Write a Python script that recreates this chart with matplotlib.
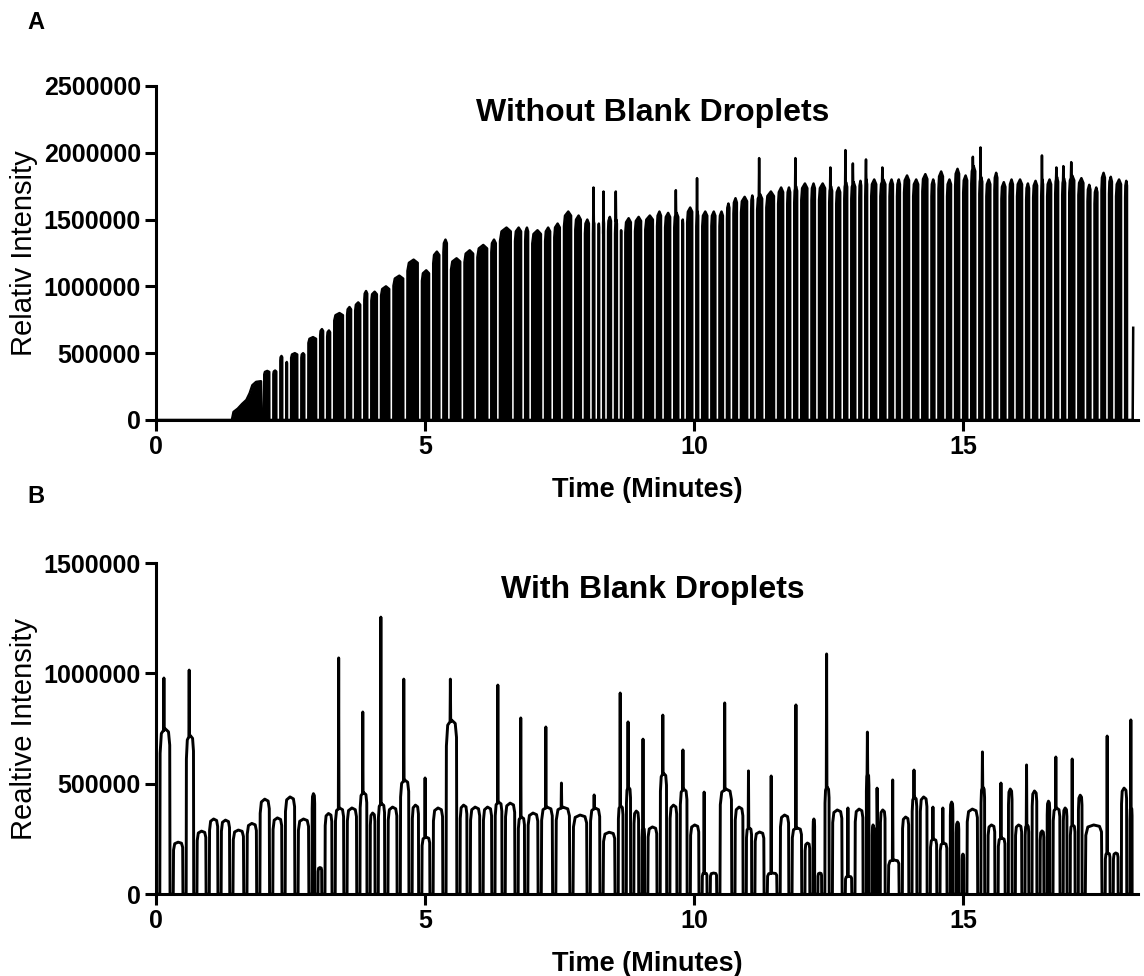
import matplotlib.pyplot as plt

plt.rcParams['font.family'] = ['Liberation Sans', 'DejaVu Sans']

# Panel A (without blank droplets)
# early ramp where the droplets run together (min, thousand counts)
a_ramp_t = [1.41, 1.44, 1.52, 1.60, 1.68, 1.74, 1.79, 1.86, 1.95]
a_ramp_k = [0, 60, 85, 120, 150, 200, 260, 285, 290]
# droplet start times (min), plateau level and spike top (thousand counts, 0 = no spike)
a_start = [2.01, 2.18, 2.31, 2.42,
           2.51, 2.70, 2.83, 3.05, 3.18, 3.31, 3.55, 3.70, 3.87, 4.00,
           4.18, 4.41, 4.67, 4.94, 5.15, 5.34, 5.48, 5.73, 5.97, 6.23,
           6.39, 6.67, 6.86, 6.99, 7.23, 7.40, 7.58, 7.79, 7.97, 8.12,
           8.22, 8.31, 8.40, 8.53, 8.64, 8.72, 8.90, 9.09, 9.31, 9.46,
           9.63, 9.78, 9.87, 10.04, 10.15, 10.32, 10.47, 10.61, 10.73, 10.87,
           11.06, 11.17, 11.34, 11.56, 11.73, 11.86, 11.99, 12.18, 12.32, 12.51,
           12.64, 12.79, 12.92, 13.07, 13.18, 13.29, 13.46, 13.63, 13.77, 13.90,
           14.07, 14.24, 14.41, 14.54, 14.70, 14.85, 15.00, 15.15, 15.30, 15.43,
           15.58, 15.71, 15.86, 16.00, 16.17, 16.30, 16.45, 16.56, 16.71, 16.84,
           16.97, 17.14, 17.31, 17.44, 17.57, 17.71, 17.84, 18.01]
a_level = [367, 370, 479, 434,
           500, 500, 620, 680, 670, 800, 845, 880, 965, 960,
           1000, 1080, 1200, 1120, 1260, 1350, 1210, 1270, 1310, 1350,
           1440, 1440, 1440, 1420, 1440, 1470, 1560, 1530, 1500, 1500,
           1470, 1500, 1520, 1500, 1420, 1510, 1520, 1530, 1560, 1550,
           1550, 1500, 1590, 1560, 1560, 1560, 1560, 1620, 1660, 1670,
           1680, 1690, 1710, 1740, 1740, 1750, 1770, 1770, 1770, 1750,
           1740, 1780, 1780, 1790, 1800, 1800, 1800, 1800, 1800, 1830,
           1800, 1840, 1800, 1860, 1800, 1880, 1830, 1900, 1820, 1800,
           1850, 1780, 1800, 1800, 1770, 1790, 1800, 1800, 1820, 1810,
           1830, 1810, 1760, 1740, 1850, 1820, 1800, 1790]
a_spike = [0, 0, 0, 0,
           0, 0, 0, 0, 0, 0, 0, 0, 0, 0,
           0, 0, 0, 0, 0, 0, 0, 0, 0, 0,
           0, 0, 0, 0, 0, 0, 0, 0, 0, 1740,
           0, 1710, 0, 1710, 0, 0, 0, 0, 0, 0,
           1720, 0, 0, 1810, 0, 0, 0, 0, 0, 0,
           0, 1960, 0, 0, 0, 1960, 0, 0, 0, 1890,
           0, 2020, 1920, 0, 1950, 0, 1890, 0, 0, 0,
           0, 0, 0, 0, 0, 0, 0, 1970, 2040, 0,
           0, 0, 0, 0, 0, 0, 1980, 0, 1890, 1900,
           1930, 0, 0, 0, 0, 0, 0, 0]
a_end = 18.12
a_tail_t = 18.16
a_tail_k = 690

# Panel B (with blank droplets)
b_start = [0.00, 0.07, 0.32, 0.56, 0.76, 0.99, 1.21, 1.43, 1.69, 1.93,
           2.17, 2.40, 2.64, 2.90, 3.01, 3.14, 3.33, 3.55, 3.79, 3.98,
           4.13, 4.31, 4.54, 4.76, 4.94, 5.15, 5.39, 5.65, 5.84, 6.08,
           6.30, 6.49, 6.73, 6.91, 7.16, 7.43, 7.75, 8.07, 8.31, 8.59,
           8.74, 8.88, 9.03, 9.14, 9.37, 9.55, 9.74, 9.93, 10.15, 10.30,
           10.48, 10.76, 10.97, 11.13, 11.36, 11.60, 11.82, 12.06, 12.21, 12.30,
           12.43, 12.57, 12.81, 12.99, 13.20, 13.31, 13.40, 13.46, 13.61, 13.87,
           14.05, 14.20, 14.39, 14.57, 14.76, 14.87, 14.98, 15.07, 15.33, 15.46,
           15.65, 15.84, 15.97, 16.15, 16.28, 16.43, 16.56, 16.67, 16.86, 16.99,
           17.14, 17.27, 17.64, 17.79, 17.94, 18.10]
b_level = [150, 750, 235, 720, 285, 340, 335, 290, 320, 430,
           345, 440, 340, 455, 120, 365, 390, 390, 460, 367,
           410, 394, 517, 403, 258, 390, 789, 403, 394, 394,
           417, 412, 349, 367, 394, 394, 358, 390, 280, 400,
           485, 376, 300, 304, 548, 403, 476, 313, 95, 95,
           476, 394, 300, 281, 95, 358, 300, 231, 340, 95,
           485, 381, 80, 385, 548, 313, 300, 381, 154, 349,
           440, 440, 249, 231, 417, 326, 181, 385, 485, 313,
           254, 476, 313, 313, 467, 286, 421, 390, 390, 313,
           448, 313, 186, 186, 480, 394]
b_spike = [0, 979, 0, 1015, 0, 0, 0, 0, 0, 0,
           0, 0, 0, 0, 0, 0, 1070, 0, 825, 0,
           1255, 0, 974, 0, 526, 0, 974, 0, 0, 0,
           947, 0, 798, 0, 757, 503, 0, 449, 0, 911,
           780, 0, 702, 0, 811, 0, 653, 0, 462, 0,
           866, 0, 558, 0, 535, 0, 857, 0, 0, 0,
           1088, 0, 390, 0, 734, 0, 480, 0, 517, 0,
           562, 0, 394, 390, 0, 0, 0, 0, 644, 0,
           503, 0, 0, 585, 0, 0, 0, 621, 0, 612,
           0, 0, 716, 0, 0, 789]
b_end = 18.20

x_ticks = [0, 5, 10, 15]
a_yticks = [0, 500000, 1000000, 1500000, 2000000, 2500000]
b_yticks = [0, 500000, 1000000, 1500000]


def build_trace(starts, levels, spikes, end, gap, fracs, shape):
    t, y = [], []
    stops = list(starts[1:]) + [end]
    for s, e, h, sp in zip(starts, stops, levels, spikes):
        w = (e - gap) - s
        pts = [(s + f * w, k * h * 1000) for f, k in zip(fracs, shape)]
        if sp:
            ts = s + 0.4 * w
            pts += [(ts - 0.006, h * 990), (ts, sp * 1000), (ts + 0.006, h * 990)]
        pts.sort()
        t += [p[0] for p in pts]
        y += [p[1] for p in pts]
    return t, y


def style_axes(ax, yticks, ylabel, title, ymax):
    ax.set_xlim(0, 18.25)
    ax.set_ylim(0, ymax)
    ax.set_xticks(x_ticks)
    ax.set_xticklabels([str(v) for v in x_ticks], fontweight='bold')
    ax.set_yticks(yticks)
    ax.set_yticklabels([str(v) for v in yticks], fontweight='bold')
    ax.tick_params(direction='out', length=8, width=2.2, labelsize=18, pad=3)
    for side in ['top', 'right']:
        ax.spines[side].set_visible(False)
    for side in ['left', 'bottom']:
        ax.spines[side].set_linewidth(2.2)
    ax.set_ylabel(ylabel, fontsize=21)
    ax.yaxis.set_label_coords(-0.120, 0.5)
    ax.set_xlabel('Time (Minutes)', fontsize=19.5, fontweight='bold', labelpad=13)
    ax.text(0.506, 0.92, title, transform=ax.transAxes, ha='center', va='center',
            fontsize=23, fontweight='bold')


fig = plt.figure(figsize=(11.44, 9.76), dpi=100)
ax1 = fig.add_axes([0.1364, 0.5697, 0.8584, 0.3422])
ax2 = fig.add_axes([0.1364, 0.0840, 0.8584, 0.3391])

# panel A: droplet bodies render solid black
ta, ya = build_trace(a_start, a_level, a_spike, a_end, 0.075,
                     [0, 0.015, 0.15, 0.6, 0.985, 1.0], [0, 0.93, 0.98, 1.0, 0.98, 0])
ta = [0] + a_ramp_t + [a_ramp_t[-1] + 0.02] + ta + [a_tail_t - 0.01, a_tail_t]
ya = [0] + [k * 1000 for k in a_ramp_k] + [0] + ya + [0, a_tail_k * 1000]
ax1.fill_between(ta, ya, 0, color='black', lw=0)
ax1.plot(ta, ya, color='black', lw=1.8)
style_axes(ax1, a_yticks, 'Relativ Intensity', 'Without Blank Droplets', 2500000)

# panel B
tb, yb = build_trace(b_start, b_level, b_spike, b_end, 0.06,
                     [0, 0.03, 0.15, 0.5, 0.85, 0.97, 1.0], [0, 0.85, 0.97, 1.0, 0.98, 0.9, 0])
ax2.plot(tb, yb, color='black', lw=2.1)
style_axes(ax2, b_yticks, 'Realtive Intensity', 'With Blank Droplets', 1500000)

fig.text(0.031, 0.977, 'A', fontsize=17, fontweight='bold', ha='center', va='center')
fig.text(0.031, 0.491, 'B', fontsize=17, fontweight='bold', ha='center', va='center')

fig.savefig('out.png', dpi=100)
